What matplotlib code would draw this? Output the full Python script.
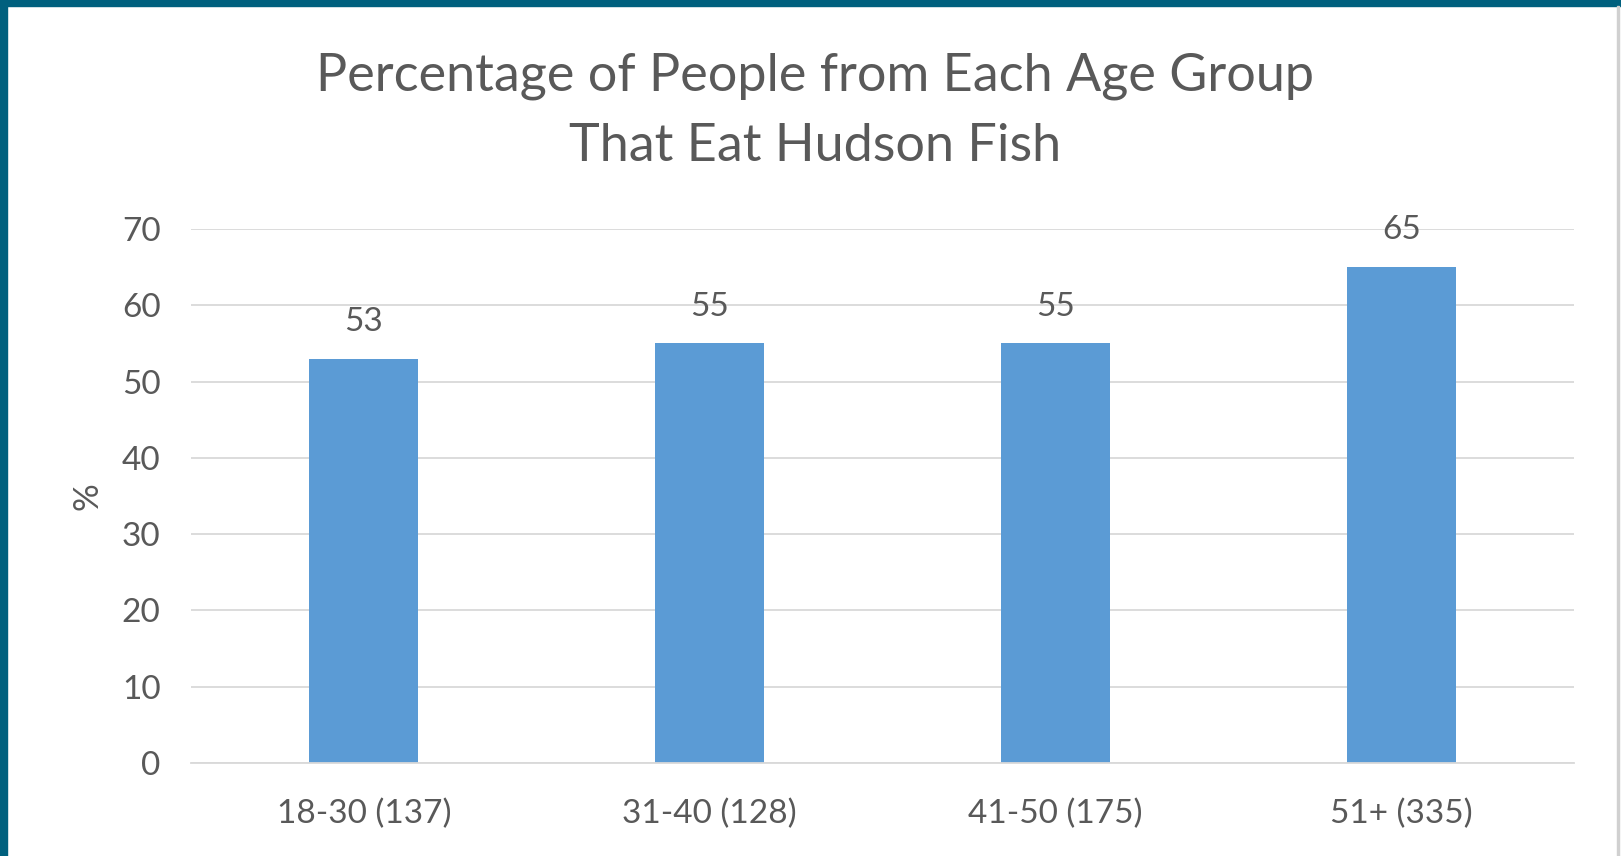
import matplotlib
matplotlib.use("Agg")
import matplotlib.pyplot as plt
from matplotlib.patches import Rectangle

categories = ["18-30 (137)", "31-40 (128)", "41-50 (175)", "51+ (335)"]
values = [53, 55, 55, 65]
yticks = [0, 10, 20, 30, 40, 50, 60, 70]

W, H = 1621, 856
fig = plt.figure(figsize=(W / 100, H / 100), dpi=100)
fig.patch.set_facecolor("white")
plt.rcParams["font.family"] = ["Lato", "DejaVu Sans"]

# frame
fig.patches.append(Rectangle((0, 1 - 6 / H), 1, 6 / H, transform=fig.transFigure, color="#00607E", zorder=0))
fig.patches.append(Rectangle((0, 0), 7 / W, 1, transform=fig.transFigure, color="#00607E", zorder=0))
fig.patches.append(Rectangle((1 - 4 / W, 0), 2 / W, 1 - 6 / H, transform=fig.transFigure, color="#D0D0D0", zorder=0))

left, right = 191 / W, 1574 / W
bottom, top = 1 - 763 / H, 1 - 229 / H
ax = fig.add_axes([left, bottom, right - left, top - bottom])
x = range(len(categories))
bars = ax.bar(x, values, width=0.315, color="#5B9BD5", zorder=2)
ax.set_xlim(-0.5, len(categories) - 0.5)
ax.set_ylim(0, 70)
ax.set_yticks(yticks)
ax.set_xticks(list(x))
ax.set_xticklabels(categories)
ax.grid(axis="y", color="#D9D9D9", linewidth=1.3, zorder=0)
for s in ["top", "right", "left"]:
    ax.spines[s].set_visible(False)
ax.spines["bottom"].set_color("#D9D9D9")
ax.spines["bottom"].set_linewidth(1.3)
ax.tick_params(axis="both", length=0, labelsize=24, colors="#595959")
ax.tick_params(axis="y", pad=22)
ax.tick_params(axis="x", pad=26)
for b, v in zip(bars, values):
    ax.annotate(str(v), (b.get_x() + b.get_width() / 2, v), xytext=(0, 26.5),
                textcoords="offset points", ha="center", va="center", fontsize=24, color="#595959")
ax.set_ylabel("%", fontsize=25, color="#595959")
ax.yaxis.set_label_coords(-0.063, 0.5)

fig.text(0.503, 1 - 111 / H, "Percentage of People from Each Age Group\nThat Eat Hudson Fish",
         ha="center", va="center", fontsize=37.5, color="#595959", linespacing=1.6)

fig.savefig("out.png", dpi=100)
